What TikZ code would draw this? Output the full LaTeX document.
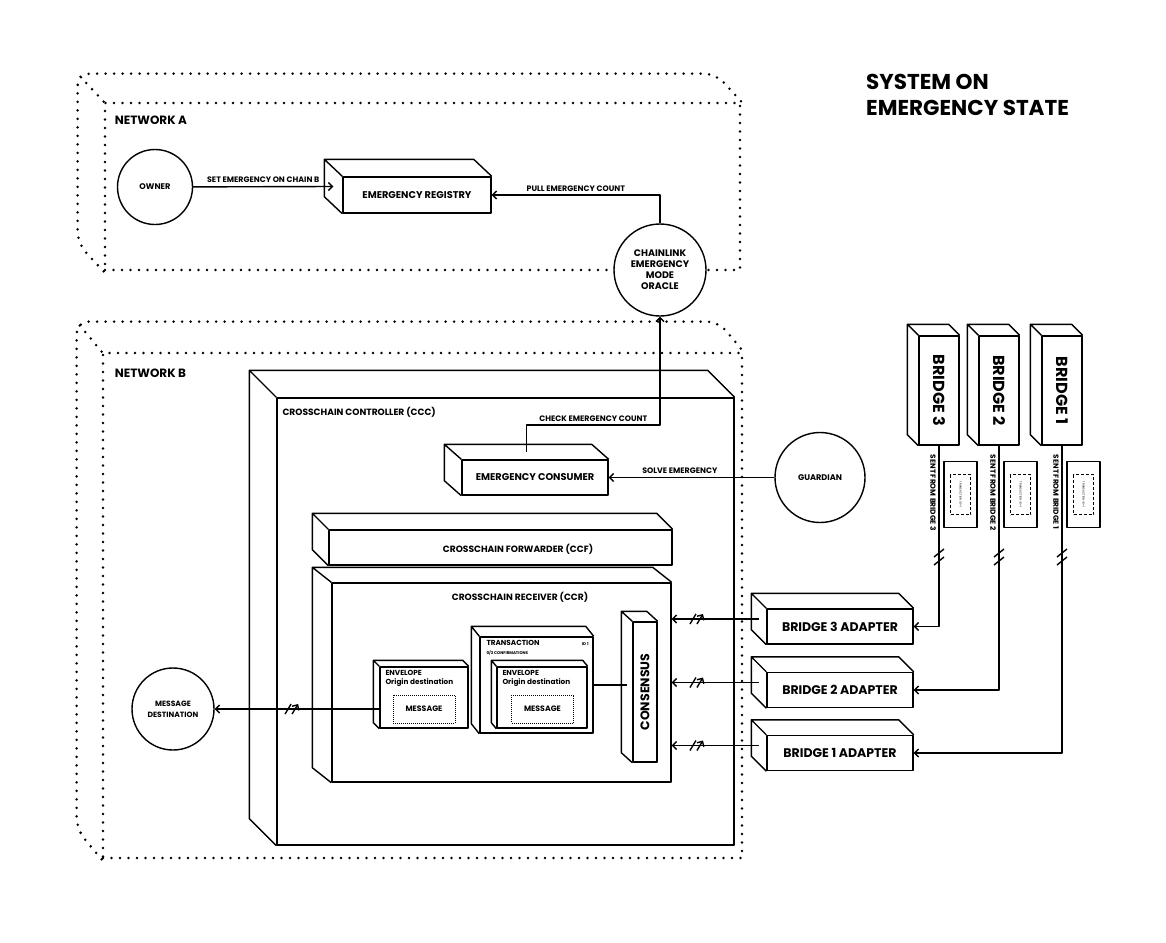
\documentclass[tikz,border=0pt]{standalone}
\usepackage{fontspec}
\setmainfont{Poppins}
\usepackage{tikz}
\usetikzlibrary{positioning, arrows.meta, calc}

% back edges of a box drawn behind its front face
\newcommand{\cubeback}[4][wire]{%
  \draw[#1] (#2.south west) -- ++(-#3,-#4) |- ($(#2.north east)+(-#3,-#4)$) -- (#2.north east)
            (#2.north west) -- ++(-#3,-#4);}

\begin{document}
\begin{tikzpicture}[x=1pt, y=-1pt,
                  wire/.style={line width=1.4pt, line join=round},
                  cube/.style={draw, fill=white, wire, inner sep=0pt, text centered,
                               font=\fontsize{9.8}{11}\selectfont\bfseries},
                  circ/.style={draw, circle, wire, fill=white, inner sep=0pt, align=center,
                               font=\fontsize{8.2}{11}\selectfont\bfseries},
                  net/.style={line width=2.8pt, dash pattern=on 0pt off 8.5pt, line cap=round},
                  netbox/.style={draw, net, inner sep=0pt},
                  title/.style={font=\fontsize{21.5}{26}\selectfont\bfseries, align=left, inner sep=0pt},
                  netlbl/.style={font=\fontsize{12}{14}\selectfont\bfseries, inner sep=0pt},
                  reglbl/.style={font=\fontsize{9.1}{10}\selectfont\bfseries, inner sep=0pt},
                  adlbl/.style={font=\fontsize{12.5}{14}\selectfont\bfseries},
                  brlbl/.style={font=\fontsize{16}{18}\selectfont\bfseries},
                  cnslbl/.style={font=\fontsize{12.5}{14}\selectfont\bfseries},
                  envlbl/.style={font=\fontsize{7.3}{8.3}\selectfont\bfseries, align=left, inner sep=0pt},
                  tinylbl/.style={font=\fontsize{4}{4.5}\selectfont\bfseries, inner sep=0pt},
                  lbl/.style={font=\fontsize{7.9}{9}\selectfont\bfseries, inner sep=3pt},
                  sentlbl/.style={font=\fontsize{7.4}{8}\selectfont\bfseries, inner sep=0pt},
                  msgbox/.style={draw, densely dotted, line width=1pt, inner sep=0pt,
                                 minimum width=62, minimum height=28, font=\fontsize{7.8}{9}\selectfont\bfseries},
                  card/.style={draw, wire, fill=white, minimum width=33, minimum height=66},
                  cardin/.style={draw, densely dashed, line width=0.4pt, inner sep=0pt,
                                 minimum width=20, minimum height=40, font=\fontsize{2.8}{3}\selectfont},
                  arr/.style={wire, -{Straight Barb[length=4pt, width=8pt]}},
                  hbrk/.pic={\draw[wire] (-7,5) -- (-1,-5) (0,5) -- (6,-5);},
                  vbrk/.pic={\draw[wire] (-5,0) -- (5,-8) (-5,8) -- (5,0);},
            ]
            \useasboundingbox (0,0) rectangle (1166,942);

            \node[title, anchor=north west] (title) at (866,74) {SYSTEM ON\\EMERGENCY STATE};

            % ---- Network A ----
            \node[netbox, minimum width=635, minimum height=167] (netA) at (422.5,186.5) {};
            \cubeback[net, rounded corners=12pt]{netA}{26}{28}
            \node[netlbl, below right=14pt and 11pt of netA.north west] (labA) {NETWORK A};

            \node[circ, minimum size=75] (owner) at (155,187) {OWNER};
            \node[cube, minimum width=148, minimum height=36] (reg) at (417,195) {EMERGENCY REGISTRY};
            \cubeback{reg}{18}{17}
            \node[circ, minimum size=92, font=\fontsize{9.5}{11}\selectfont\bfseries] (chain) at (660,270)
                  {CHAINLINK\\EMERGENCY\\MODE\\ORACLE};

            \coordinate (regside) at ($(reg.west)+(-9,-8.5)$);
            \draw[arr] (owner) -- (regside) node[lbl, midway, above] {SET EMERGENCY ON CHAIN B};
            \draw[arr] (chain.north) |- (reg.east) node[lbl, pos=0.75, above] {PULL EMERGENCY COUNT};

            % ---- Network B ----
            \node[netbox, minimum width=639, minimum height=505] (netB) at (422.5,605.5) {};
            \cubeback[net, rounded corners=12pt]{netB}{25}{30}
            \node[netlbl, below right=17pt and 13pt of netB.north west] (labB) {NETWORK B};

            % controller
            \node[cube, minimum width=457, minimum height=447] (ccc) at (505.5,621.5) {};
            \cubeback{ccc}{27}{27}
            \node[reglbl, below right=10pt and 6pt of ccc.north west] {CROSSCHAIN CONTROLLER (CCC)};

            \node[cube, minimum width=146, minimum height=35] (cons) at (535,477.5) {EMERGENCY CONSUMER};
            \cubeback{cons}{17}{15}
            \node[circ, minimum size=90] (guard) at (820,477.5) {GUARDIAN};
            \draw[arr] (guard) -- (cons.east) node[lbl, pos=0.57, above] {SOLVE EMERGENCY};

            \coordinate (constop) at ($(cons.north)+(-8.5,-7.5)$);
            \draw[arr] (constop) -- ++(0,-27) -| (chain.south) node[lbl, pos=0.25, above] {CHECK EMERGENCY COUNT};

            % forwarder and receiver
            \node[cube, minimum width=343, minimum height=35] (ccf) at (500.5,547.5) {};
            \cubeback{ccf}{16}{16}
            \node[reglbl] at ($(ccf.center)+(17.5,1.5)$) {CROSSCHAIN FORWARDER (CCF)};

            \node[cube, minimum width=339, minimum height=199] (ccr) at (501.5,682.5) {};
            \cubeback{ccr}{19}{15}
            \node[reglbl] at ($(ccr.north)+(18.5,15)$) {CROSSCHAIN RECEIVER (CCR)};

            \node[cube, cnslbl, minimum width=24, minimum height=140] (cns) at (645,692) {\rotatebox{90}{CONSENSUS}};
            \cubeback{cns}{11}{10}

            % envelope on its way out
            \node[cube, minimum width=88, minimum height=61] (env1) at (424,697.5) {};
            \cubeback{env1}{6}{6}
            \node[envlbl, anchor=north west] at ($(env1.north west)+(6,4)$) {ENVELOPE\\Origin destination};
            \node[msgbox] (msg1) at (424,709) {MESSAGE};

            % transaction waiting for confirmations
            \node[cube, minimum width=113, minimum height=96] (tx) at (536.5,685) {};
            \cubeback{tx}{8}{10}
            \node[envlbl, anchor=north west] at ($(tx.north west)+(7,4)$)
                  {TRANSACTION\\{\fontsize{4}{5}\selectfont 0/3 CONFIRMATIONS}};
            \node[tinylbl, anchor=north east] at ($(tx.north east)+(-5,6)$) {ID 1};
            \node[cube, minimum width=90, minimum height=61] (env2) at (542,697.5) {};
            \cubeback{env2}{5}{6}
            \node[envlbl, anchor=north west] at ($(env2.north west)+(6,4)$) {ENVELOPE\\Origin destination};
            \node[msgbox] (msg2) at (542.5,709) {MESSAGE};

            \draw[wire] (tx.east) -- ($(tx.east -| cns.west)+(-5,0)$);

            \node[circ, minimum size=82, font=\fontsize{7.6}{11}\selectfont\bfseries] (dest) at (173,709) {MESSAGE\\DESTINATION};
            \draw[arr] (env1.west |- msg1.center) -- (dest) pic[pos=0.53]{hbrk};

            % ---- Bridges and adapters ----
            \foreach \i/\x in {3/939, 2/999, 1/1062}{
                  \node[cube, brlbl, minimum width=40, minimum height=109] (br\i) at (\x,390.5) {\rotatebox{-90}{BRIDGE \i}};
                  \cubeback{br\i}{11}{11}
                  \node[sentlbl, rotate=-90, anchor=north west] at ($(br\i.south)+(-3,9)$) {SENT FROM BRIDGE \i};
                  \node[card] (card\i) at (\x+21.5,494.5) {};
                  \node[cardin] (cid\i) at (card\i) {\rotatebox{-90}{TRANSACTION ID+1}};
            }
            \foreach \i/\y in {3/626.5, 2/690, 1/753}{
                  \node[cube, adlbl, minimum width=146, minimum height=35] (ad\i) at (840,\y) {BRIDGE \i\ ADAPTER};
                  \cubeback{ad\i}{15}{15}
                  \coordinate (side\i) at ($(ad\i.west)+(-7.5,-7.5)$);
            }

            % ---- Connectors ----
            \foreach \i in {1,2,3}{
                  \draw[arr] (br\i.south) |- (ad\i.east);
                  \pic at (br\i.south |- 0,557) {vbrk};
                  \draw[arr] (side\i) -- (side\i -| ccr.east) pic[pos=0.71]{hbrk};
            }

      \end{tikzpicture}
\end{document}
